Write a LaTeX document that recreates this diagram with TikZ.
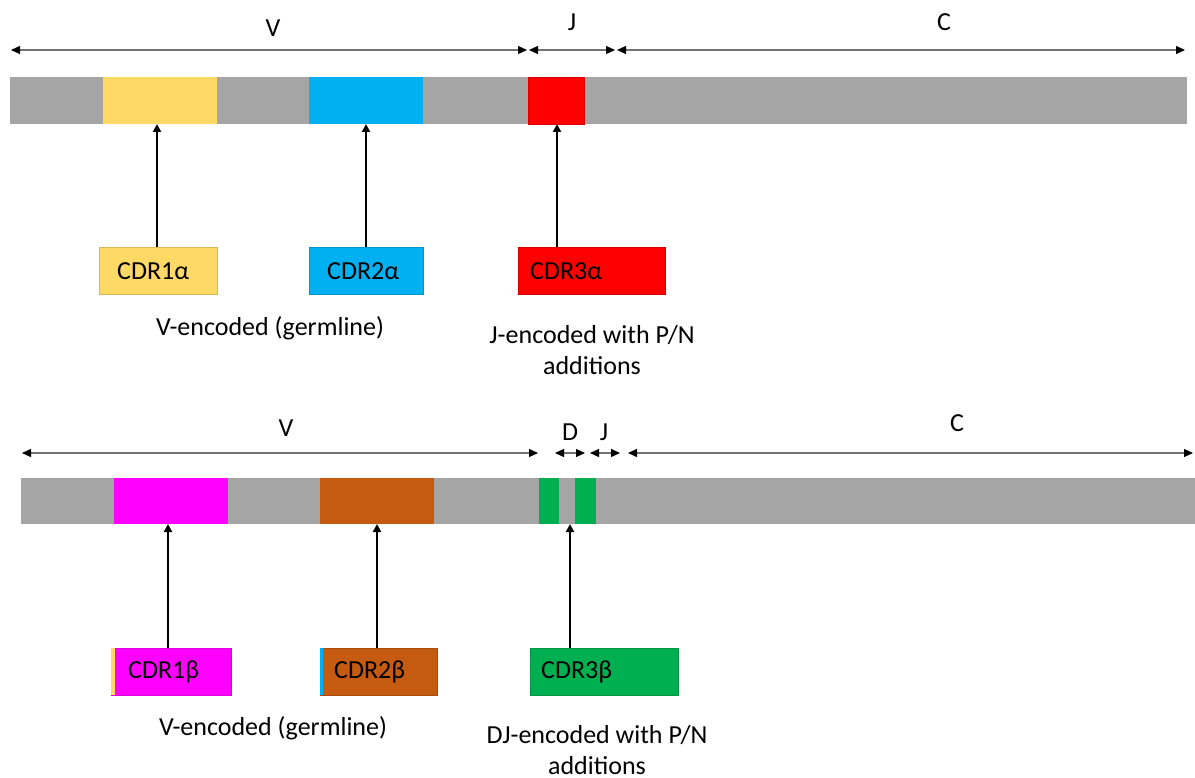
\documentclass[tikz,border=0pt]{standalone}
\usepackage{fontspec}
\setmainfont{Carlito}
\usetikzlibrary{arrows.meta}
\definecolor{bargray}{HTML}{A5A5A5}
\definecolor{cyel}{HTML}{FFD966}
\definecolor{cblue}{HTML}{00B0F0}
\definecolor{cred}{HTML}{FF0000}
\definecolor{cmag}{HTML}{FF00FF}
\definecolor{cbrown}{HTML}{C55A11}
\definecolor{cgreen}{HTML}{00B050}
\tikzset{
  seg/.style={draw=#1!85!black, line width=0.6pt, fill=#1},
  span/.style={draw=black!55, line width=1.2pt, {Triangle[length=9pt,width=8pt,color=black]}-{Triangle[length=9pt,width=8pt,color=black]}},
  up/.style={draw=black, line width=2.2pt, -{Triangle[length=8pt,width=8pt]}},
  lab/.style={font=\fontsize{26}{30}\selectfont, inner sep=0pt},
  boxtext/.style={font=\fontsize{26}{30}\selectfont, anchor=west, inner sep=0pt},
}
\begin{document}
\begin{tikzpicture}[x=1pt,y=-1pt]
\useasboundingbox (0,0) rectangle (1195,778);
% ---------- top (alpha) ----------
\fill[bargray] (10,77) rectangle (1187,124);
\fill[cyel] (103,77) rectangle (217,124);
\fill[cblue] (309,77) rectangle (423,124);
\draw[seg=cred] (528,77) rectangle (584,124);
% spans
\coordinate (tv1) at (11,50); \coordinate (tv2) at (527,50);
\coordinate (tj1) at (529,50); \coordinate (tj2) at (615,50);
\coordinate (tc1) at (617,50); \coordinate (tc2) at (1185,50);
\draw[span] (tv1) -- (tv2);
\draw[span] (tj1) -- (tj2);
\draw[span] (tc1) -- (tc2);
\node[lab] (lV1) at (273,28) {V};
\node[lab] (lJ1) at (572,22) {J};
\node[lab] (lC1) at (944,22) {C};
% boxes
\draw[seg=cyel] (99,247) rectangle (217,294);
\node[boxtext] (cdr1a) at (117,271) {CDR1α};
\draw[seg=cblue] (309,247) rectangle (423,294);
\node[boxtext] (cdr2a) at (327,271) {CDR2α};
\draw[seg=cred] (518,247) rectangle (665,294);
\node[boxtext] (cdr3a) at (530,271) {CDR3α};
\coordinate (a1b) at (157,247); \coordinate (a1t) at (157,124);
\coordinate (a2b) at (366,247); \coordinate (a2t) at (366,124);
\coordinate (a3b) at (557,247); \coordinate (a3t) at (557,124);
\draw[up] (a1b) -- (a1t);
\draw[up] (a2b) -- (a2t);
\draw[up] (a3b) -- (a3t);
\node[lab] (ta) at (270,328) {V-encoded (germline)};
\node[lab, align=center, font=\fontsize{26}{31}\selectfont] (tb) at (592,350) {J-encoded with P/N\\additions};
% ---------- bottom (beta) ----------
\fill[bargray] (21,478) rectangle (1195,524);
\fill[cmag] (114,478) rectangle (228,524);
\fill[cbrown] (320,478) rectangle (434,524);
\fill[cgreen] (539,478) rectangle (559,524);
\fill[cgreen] (575,478) rectangle (596,524);
\coordinate (bv1) at (22,453); \coordinate (bv2) at (538,453);
\coordinate (bd1) at (555,453); \coordinate (bd2) at (585,453);
\coordinate (bj1) at (590,453); \coordinate (bj2) at (620,453);
\coordinate (bc1) at (628,453); \coordinate (bc2) at (1193,453);
\draw[span] (bv1) -- (bv2);
\draw[span] (bd1) -- (bd2);
\draw[span] (bj1) -- (bj2);
\draw[span] (bc1) -- (bc2);
\node[lab] (lV2) at (286,428) {V};
\node[lab] (lD2) at (570,432) {D};
\node[lab] (lJ2) at (604,432) {J};
\node[lab] (lC2) at (957,423) {C};
\draw[seg=cmag] (111,648) rectangle (231,695);
\fill[cyel] (111.3,648.3) rectangle (115,694.7);
\node[boxtext] (cdr1b) at (128,672) {CDR1β};
\draw[seg=cbrown] (320,648) rectangle (437,695);
\fill[cblue] (320.3,648.3) rectangle (322.5,694.7);
\node[boxtext] (cdr2b) at (334,672) {CDR2β};
\draw[seg=cgreen] (530,648) rectangle (678,695);
\node[boxtext] (cdr3b) at (541,672) {CDR3β};
\coordinate (b1b) at (168,648); \coordinate (b1t) at (168,524);
\coordinate (b2b) at (377,648); \coordinate (b2t) at (377,524);
\coordinate (b3b) at (570,648); \coordinate (b3t) at (570,524);
\draw[up] (b1b) -- (b1t);
\draw[up] (b2b) -- (b2t);
\draw[up] (b3b) -- (b3t);
\node[lab] (tc) at (273,728) {V-encoded (germline)};
\node[lab, align=center, font=\fontsize{26}{31}\selectfont] (td) at (597,750) {DJ-encoded with P/N\\additions};
\end{tikzpicture}
\end{document}
